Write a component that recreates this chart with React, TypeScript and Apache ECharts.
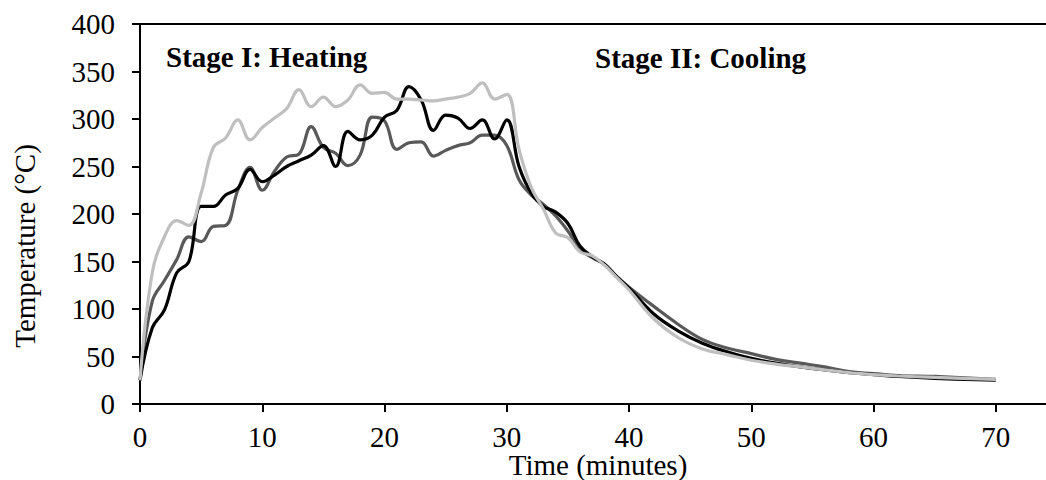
import React, { useEffect, useRef } from "react";
import * as echarts from "echarts";

const times = [
  0, 1, 2, 3, 4, 5, 6, 7, 8, 9, 10, 11, 12, 13, 14, 15, 16, 17, 18, 19, 20,
  21, 22, 23, 24, 25, 26, 27, 28, 29, 30, 31, 32, 33, 34, 35, 36, 37, 38, 39,
  40, 42, 44, 46, 48, 50, 52, 54, 56, 58, 60, 62, 65, 70,
];

const lightGray = [
  25, 138, 176, 193, 188, 222, 270, 280, 299, 278, 291, 301, 311, 331, 313, 323,
  313, 320, 336, 327, 328, 321, 321, 320, 319, 321, 323, 327, 338, 321, 326,
  268, 228, 205, 180, 175, 160, 156, 146, 133, 120, 90, 70, 58, 52, 46, 42, 39,
  36, 33, 31, 29.5, 28, 26,
];

const darkGray = [
  25, 108, 130, 152, 176, 171, 187, 188, 225, 249, 225, 245, 260, 263, 292, 270,
  264, 251, 262, 302, 298, 268, 275, 276, 261, 267, 272, 275, 283, 283, 272,
  236, 220, 210, 198, 182, 163, 154, 147, 134, 123, 103, 84, 68, 59, 53, 47, 43,
  39, 34, 32, 30, 29, 26,
];

const black = [
  25, 80, 99, 138, 150, 208, 208, 220, 227, 247, 234, 241, 250, 256, 262, 272,
  250, 287, 278, 283, 302, 309, 334, 320, 288, 304, 301, 290, 299, 279, 299,
  250, 222, 208, 202, 190, 166, 155, 147, 134, 122, 95, 77, 64, 55, 48, 43, 39,
  36, 33, 31, 29, 27, 25,
];

const stageLabels = ["Stage I: Heating", "Stage II: Cooling"];
const xTitle = "Time (minutes)";
const yTitle = "Temperature (°C)";

const FONT = "'Liberation Serif', 'Times New Roman', serif";

function pairs(vals: number[]) {
  return times.map((t, i) => [t, vals[i]]);
}

export default function App() {
  const ref = useRef<HTMLDivElement>(null);
  useEffect(() => {
    if (!ref.current) return;
    const chart = echarts.init(ref.current, undefined, { renderer: "svg" });
    const lineSeries = (name: string, vals: number[], color: string) => ({
      name,
      type: "line",
      data: pairs(vals),
      smooth: 0.4,
      showSymbol: false,
      symbol: "none",
      lineStyle: { color, width: 3.2 },
      xAxisIndex: 0,
      yAxisIndex: 0,
    });
    chart.setOption({
      animation: false,
      backgroundColor: "#fff",
      textStyle: { fontFamily: FONT },
      grid: {
        left: 140,
        right: -11,
        top: 24,
        bottom: 76,
        containLabel: false,
        outerBoundsMode: "none",
      },
      xAxis: [
        {
          type: "value",
          min: 0,
          max: 75,
          interval: 10,
          position: "bottom",
          axisLine: { show: true, lineStyle: { color: "#000", width: 2 } },
          axisTick: { show: true, inside: false, length: 8, lineStyle: { color: "#000", width: 2 } },
          axisLabel: {
            fontFamily: FONT,
            fontSize: 29,
            color: "#000",
            margin: 18,
            formatter: (v: number) => (v % 10 === 0 && v <= 70 ? String(v) : ""),
          },
          splitLine: { show: false },
        },
        {
          type: "value",
          min: 0,
          max: 75,
          position: "top",
          axisLine: { show: true, lineStyle: { color: "#000", width: 2 } },
          axisTick: { show: false },
          axisLabel: { show: false },
          splitLine: { show: false },
        },
      ],
      yAxis: {
        type: "value",
        min: 0,
        max: 400,
        interval: 50,
        axisLine: { show: true, lineStyle: { color: "#000", width: 2 } },
        axisTick: { show: true, inside: false, length: 8, lineStyle: { color: "#000", width: 2 } },
        axisLabel: { fontFamily: FONT, fontSize: 29, color: "#000", margin: 25 },
        splitLine: { show: false },
      },
      graphic: [
        {
          type: "text",
          x: 25,
          y: 246,
          rotation: Math.PI / 2,
          style: {
            text: yTitle,
            font: `29px ${FONT}`,
            fill: "#000",
            align: "center",
            verticalAlign: "middle",
          },
        },
        {
          type: "text",
          x: 598,
          y: 465,
          style: {
            text: xTitle,
            font: `29px ${FONT}`,
            fill: "#000",
            align: "center",
            verticalAlign: "middle",
          },
        },
        {
          type: "text",
          x: 166,
          y: 57,
          style: {
            text: stageLabels[0],
            font: `bold 29px ${FONT}`,
            fill: "#000",
            verticalAlign: "middle",
          },
        },
        {
          type: "text",
          x: 595,
          y: 58,
          style: {
            text: stageLabels[1],
            font: `bold 29px ${FONT}`,
            fill: "#000",
            verticalAlign: "middle",
          },
        },
      ],
      series: [
        lineSeries("Dark", darkGray, "#595959"),
        lineSeries("Black", black, "#000000"),
        lineSeries("Light", lightGray, "#BFBFBF"),
      ],
    });
    return () => chart.dispose();
  }, []);
  return (
    <div
      ref={ref}
      style={{ position: "absolute", left: 0, top: 0, width: 1046, height: 480 }}
    />
  );
}
